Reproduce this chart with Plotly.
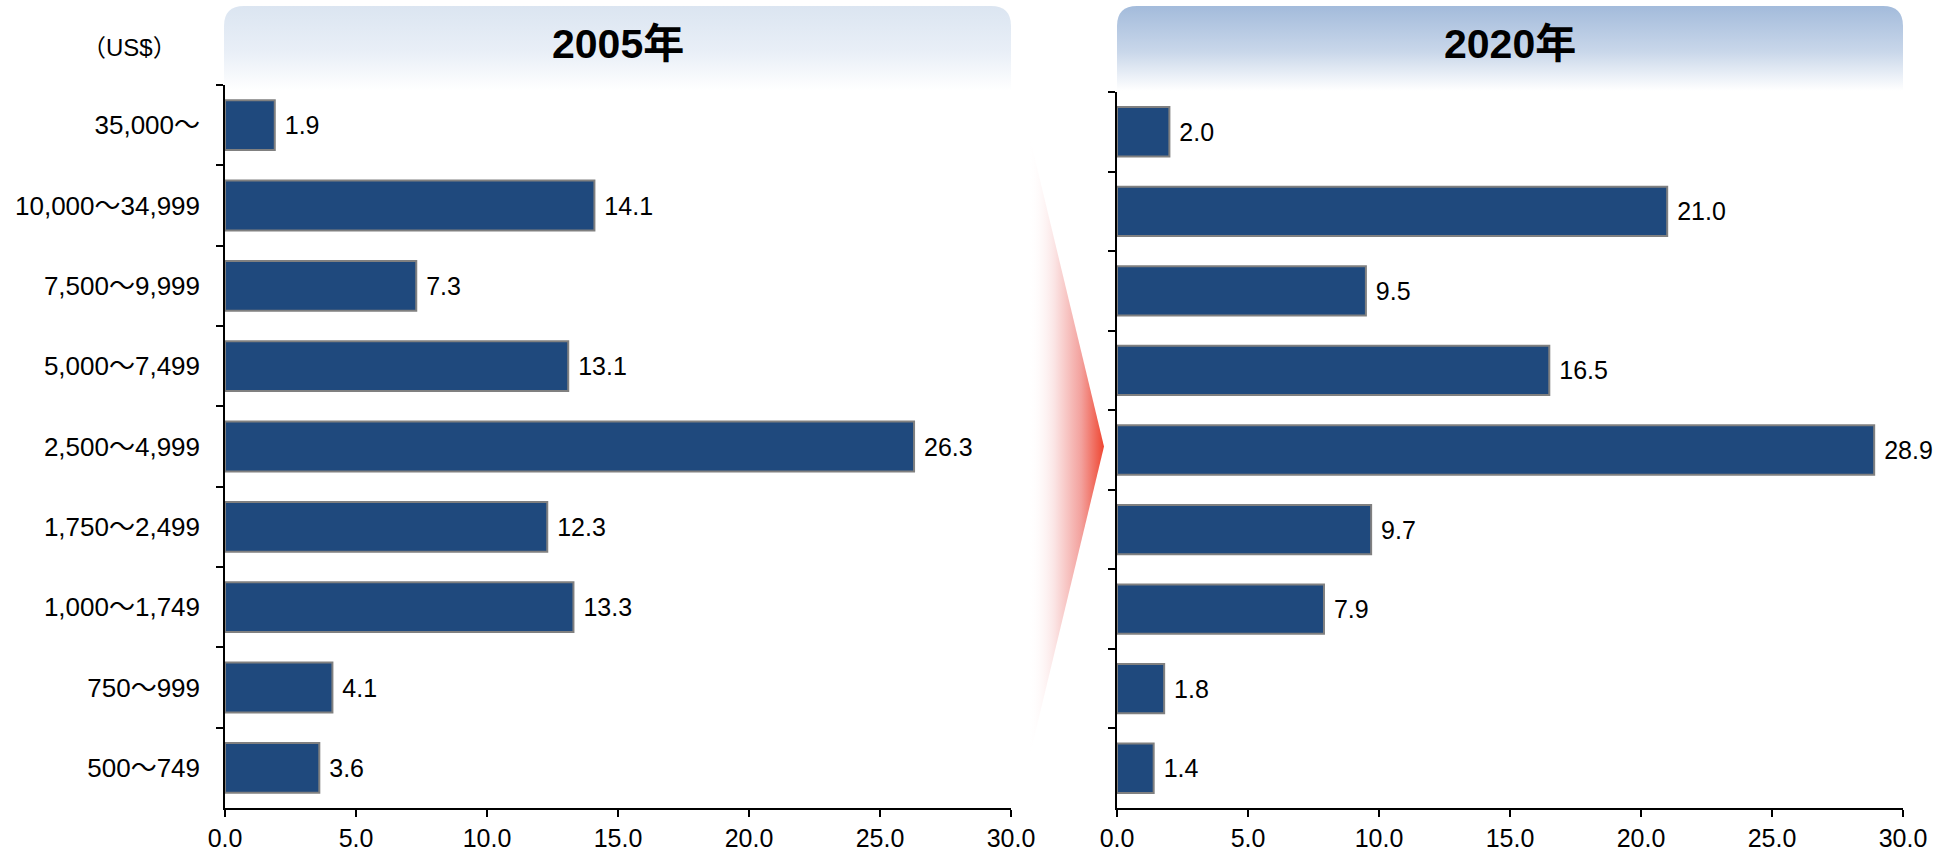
""" Income bracket distribution, 2005 vs 2020 """

import base64

from plotly import graph_objects as go

W, H = 1954, 857

brackets = [
    "35,000～",
    "10,000～34,999",
    "7,500～9,999",
    "5,000～7,499",
    "2,500～4,999",
    "1,750～2,499",
    "1,000～1,749",
    "750～999",
    "500～749",
]
share_2005 = [1.9, 14.1, 7.3, 13.1, 26.3, 12.3, 13.3, 4.1, 3.6]
share_2020 = [2.0, 21.0, 9.5, 16.5, 28.9, 9.7, 7.9, 1.8, 1.4]
panel_titles = ["2005年", "2020年"]
unit_label = "（US$）"

FONT = "Liberation Sans, Arial, Noto Sans CJK JP, sans-serif"
BAR_FILL = "#1f497d"
BAR_EDGE = "#808080"


def svg_uri(svg):
    return "data:image/svg+xml;base64," + base64.b64encode(svg.encode("utf-8")).decode()


def header_svg(w, h, top_color, mid_color):
    return (
        f"<svg xmlns='http://www.w3.org/2000/svg' width='{w}' height='{h}' "
        f"viewBox='0 0 {w} {h}' preserveAspectRatio='none'>"
        "<defs><linearGradient id='g' x1='0' y1='0' x2='0' y2='1'>"
        f"<stop offset='0' stop-color='{top_color}'/>"
        f"<stop offset='0.5' stop-color='{mid_color}'/>"
        "<stop offset='0.92' stop-color='#ffffff'/>"
        "</linearGradient></defs>"
        f"<path d='M0,{h} V20 Q0,0 20,0 H{w - 20} Q{w},0 {w},20 V{h} Z' fill='url(#g)'/>"
        "</svg>"
    )


def arrow_svg(w, h):
    return (
        f"<svg xmlns='http://www.w3.org/2000/svg' width='{w}' height='{h}' "
        f"viewBox='0 0 {w} {h}' preserveAspectRatio='none'>"
        "<defs><linearGradient id='a' x1='0' y1='0' x2='1' y2='0'>"
        "<stop offset='0' stop-color='#ffffff' stop-opacity='0'/>"
        "<stop offset='0.35' stop-color='#fbe4e4'/>"
        "<stop offset='0.7' stop-color='#f3a19d'/>"
        "<stop offset='1' stop-color='#ef4631'/>"
        "</linearGradient></defs>"
        f"<polygon points='0,0 {w},{h / 2} 0,{h}' fill='url(#a)'/>"
        "</svg>"
    )


def px_x(x):
    return x / W


def px_y(y):
    return 1 - y / H


fig = go.Figure()

for i, vals in enumerate([share_2005, share_2020]):
    sfx = "" if i == 0 else str(i + 1)
    fig.add_trace(
        go.Bar(
            x=vals,
            y=brackets,
            orientation="h",
            xaxis="x" + sfx,
            yaxis="y" + sfx,
            marker=dict(color=BAR_FILL, line=dict(color=BAR_EDGE, width=2)),
            text=vals,
            texttemplate=" %{x:.1f}",
            textposition="outside",
            textfont=dict(size=25, color="black", family=FONT),
            constraintext="none",
            cliponaxis=False,
            hoverinfo="skip",
            showlegend=False,
        )
    )

xaxis_common = dict(
    range=[0, 30],
    dtick=5,
    tickformat=".1f",
    showgrid=False,
    zeroline=False,
    showline=True,
    linecolor="black",
    linewidth=1.5,
    ticks="outside",
    ticklen=7,
    tickwidth=1.5,
    tickcolor="black",
    tickfont=dict(size=25, color="black", family=FONT),
    automargin=False,
    fixedrange=True,
)
yaxis_common = dict(
    autorange="reversed",
    showgrid=False,
    zeroline=False,
    showline=True,
    linecolor="black",
    linewidth=1.5,
    ticks="outside",
    tickson="boundaries",
    ticklen=7,
    tickwidth=1.5,
    tickcolor="black",
    tickfont=dict(size=26, color="black", family=FONT),
    automargin=False,
    fixedrange=True,
)

fig.update_layout(
    width=W,
    height=H,
    margin=dict(l=0, r=0, t=0, b=0, pad=0),
    paper_bgcolor="white",
    plot_bgcolor="rgba(0,0,0,0)",
    bargap=0.38,
    font=dict(family=FONT, color="black"),
    xaxis=dict(xaxis_common, domain=[px_x(225), px_x(1011)], anchor="y"),
    yaxis=dict(yaxis_common, domain=[px_y(808), px_y(85)], anchor="x",
               ticklabelstandoff=18),
    xaxis2=dict(xaxis_common, domain=[px_x(1117), px_x(1903)], anchor="y2"),
    yaxis2=dict(yaxis_common, domain=[px_y(808), px_y(92)], anchor="x2",
                showticklabels=False),
)

# gradient header boxes and the arrow between panels
images = [
    dict(source=svg_uri(header_svg(787, 92, "#dbe5f1", "#e9eff7")),
         x=px_x(224), y=px_y(6), sizex=787 / W, sizey=92 / H),
    dict(source=svg_uri(header_svg(786, 92, "#a3bbdb", "#c9d7ea")),
         x=px_x(1117), y=px_y(6), sizex=786 / W, sizey=92 / H),
    dict(source=svg_uri(arrow_svg(76, 633)),
         x=px_x(1028), y=px_y(130), sizex=76 / W, sizey=633 / H),
]
for img in images:
    img.update(xref="paper", yref="paper", xanchor="left", yanchor="top",
               sizing="stretch", layer="below")
fig.update_layout(images=images)

for title, (x0, x1) in zip(panel_titles, [(224, 1011), (1117, 1903)]):
    fig.add_annotation(
        text=f"<b>{title}</b>",
        x=px_x((x0 + x1) / 2),
        y=px_y(44),
        xref="paper",
        yref="paper",
        xanchor="center",
        yanchor="middle",
        showarrow=False,
        font=dict(size=41, color="black", family=FONT),
    )

fig.add_annotation(
    text=unit_label,
    x=px_x(129),
    y=px_y(48),
    xref="paper",
    yref="paper",
    xanchor="center",
    yanchor="middle",
    showarrow=False,
    font=dict(size=24, color="black", family=FONT),
)

# drop the default page margin so the figure sits at the window origin
fig.write_html(
    "out.html",
    config={"displayModeBar": False},
    post_script="document.body.style.margin='0';",
)
